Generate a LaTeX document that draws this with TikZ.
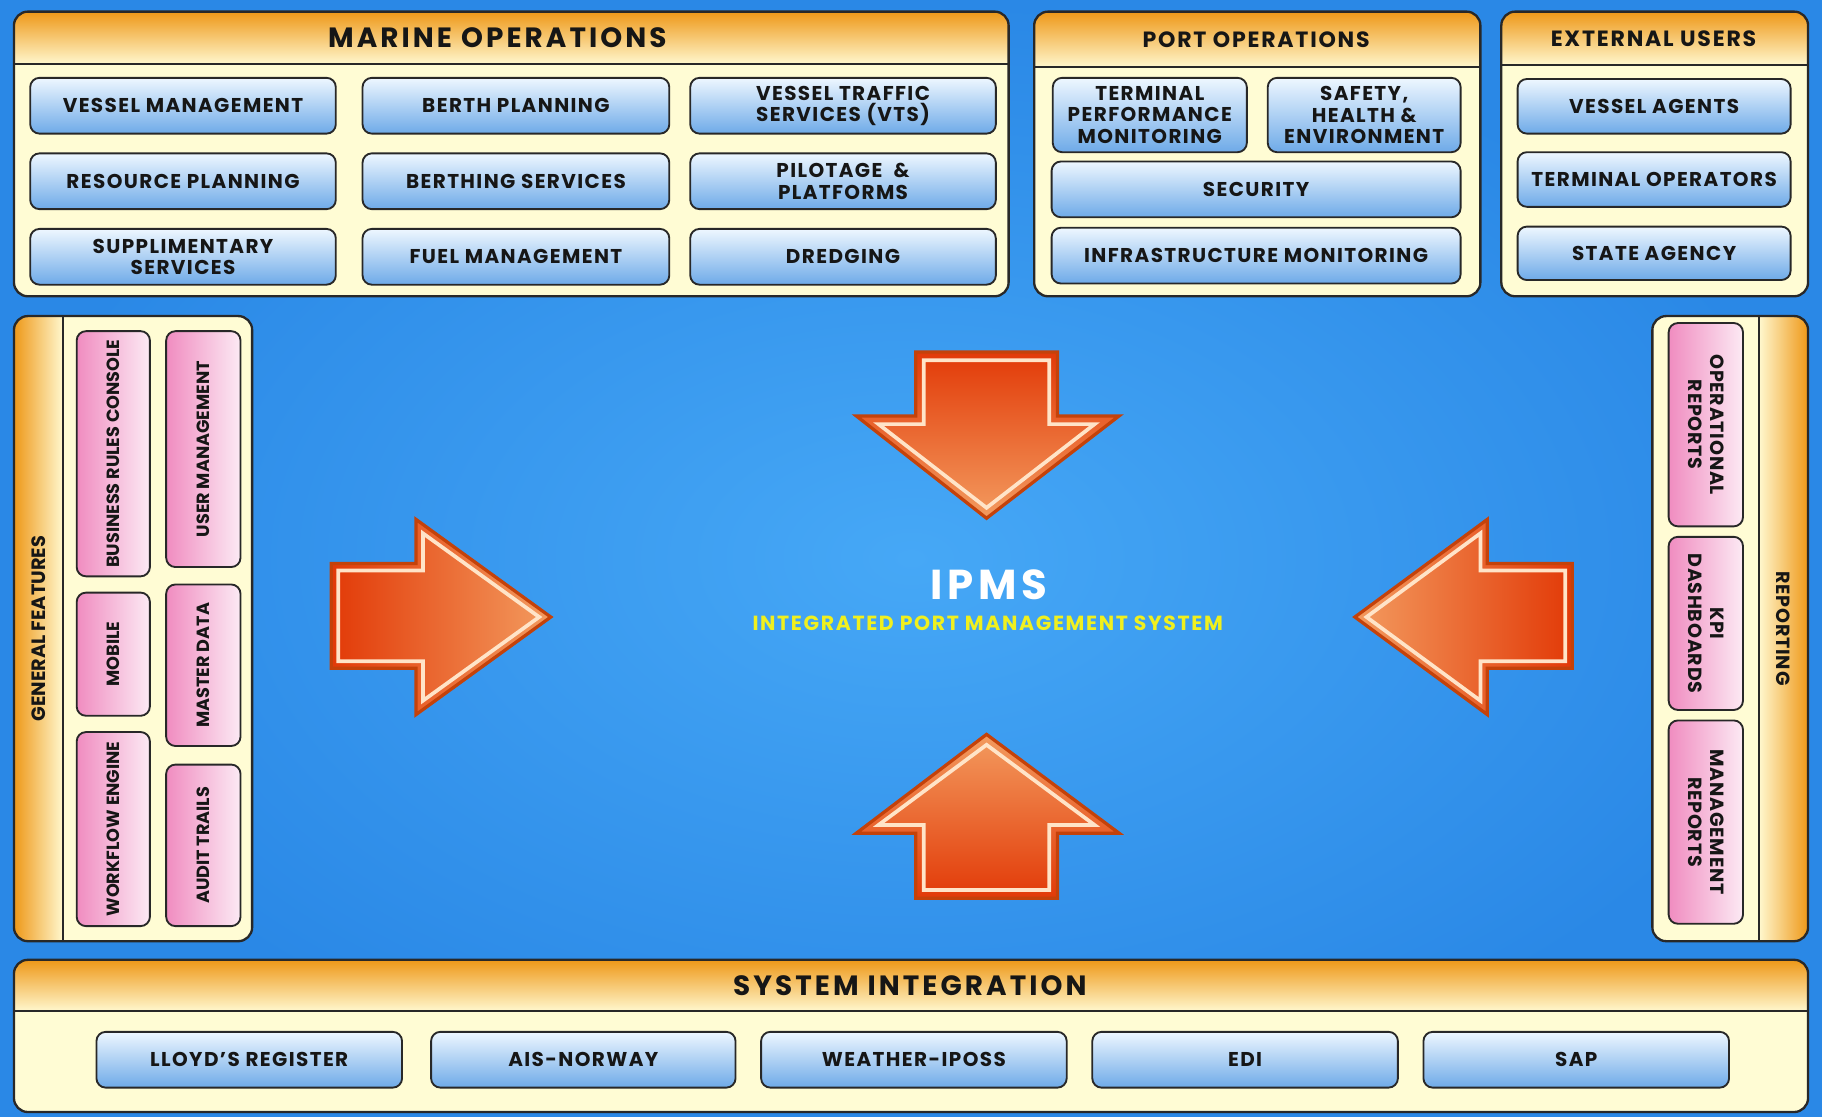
\documentclass[tikz,border=0pt]{standalone}
\usepackage{fontspec}
\setmainfont{Poppins}
\usetikzlibrary{shadings}
\definecolor{bgblue}{RGB}{42,136,230}
\definecolor{bglight}{RGB}{70,168,246}
\definecolor{cream}{RGB}{255,252,212}
\definecolor{hdrorange}{RGB}{238,152,24}
\definecolor{hdrpale}{RGB}{255,247,205}
\definecolor{btntop}{RGB}{238,247,255}
\definecolor{btnbot}{RGB}{110,170,232}
\definecolor{pinkdark}{RGB}{240,140,192}
\definecolor{pinklight}{RGB}{252,234,244}
\definecolor{edge}{RGB}{40,40,40}
\definecolor{txt}{RGB}{22,22,22}
\definecolor{arrdark}{RGB}{226,58,8}
\definecolor{arrlight}{RGB}{243,155,95}
\definecolor{arredge}{RGB}{196,66,10}
\definecolor{arrline}{RGB}{255,228,200}
\definecolor{ipmsyellow}{RGB}{240,240,30}
\newcommand\btnfont{\fontsize{8.6}{9.2}\selectfont\bfseries\addfontfeatures{LetterSpace=7}}
\tikzset{
  bluebtn/.style={draw=edge,line width=0.8pt,rounded corners=4pt,top color=btntop,bottom color=btnbot,
    inner sep=0pt,outer sep=0pt,align=center,text=txt,font=\btnfont},
  pinkbtn/.style={draw=edge,line width=0.8pt,rounded corners=4pt,left color=pinkdark,right color=pinklight,
    inner sep=0pt,outer sep=0pt},
  vtext/.style={text=txt,align=center,inner sep=0pt,font=\fontsize{7.6}{8.6}\selectfont\bfseries},
  rtext/.style={text=txt,align=center,inner sep=0pt,font=\fontsize{8.2}{9.4}\selectfont\bfseries\addfontfeatures{LetterSpace=4}},
  titletext/.style={text=txt,inner sep=0pt,font=\fontsize{9.5}{11}\selectfont\bfseries\addfontfeatures{LetterSpace=8}},
  bigtitle/.style={text=txt,inner sep=0pt,font=\fontsize{12}{13}\selectfont\bfseries\addfontfeatures{LetterSpace=11}},
  arrowshape/.style={draw=arredge,line width=1.4pt,line join=miter},
  arrowinner/.style={draw=arrline,line width=1.6pt,line join=miter},
  paneledge/.style={draw=edge,line width=1pt,rounded corners=6pt}
}
\newcommand\bbtn[6]{\node[bluebtn,minimum width={(#4-#2)*0.5pt},minimum height={(#5-#3)*0.5pt}] (#1) at ({(#2+#4)/2},{(#3+#5)/2}) {#6};}
\newcommand\pbtn[5]{\node[pinkbtn,minimum width={(#4-#2)*0.5pt},minimum height={(#5-#3)*0.5pt}] (#1) at ({(#2+#4)/2},{(#3+#5)/2}) {};}
\newcommand\hpanel[9]{%
  \fill[cream,rounded corners=6pt] (#2,#3) rectangle (#4,#5);
  \begin{scope}
    \clip[rounded corners=6pt] (#2,#3) rectangle (#4,#5);
    \shade[top color=hdrorange,bottom color=hdrpale] (#2,#3) rectangle (#4,#6);
  \end{scope}
  \draw[edge,line width=0.8pt] (#2,#6) -- (#4,#6);
  \draw[paneledge] (#2,#3) rectangle (#4,#5);
  \node[#8] (#1) at (#9,{(#3+#6)/2}) {#7};
}
\begin{document}
\begin{tikzpicture}[x=0.5pt,y=-0.5pt]
\useasboundingbox (0,0) rectangle (1568,961);
% background
\fill[bgblue] (0,0) rectangle (1568,961);
\shade[inner color=bglight,outer color=bgblue] (0,0) rectangle (1568,961);

% ---------- MARINE OPERATIONS
\hpanel{marine}{12}{10}{868}{255}{55}{MARINE OPERATIONS}{bigtitle}{428}
\bbtn{vm}{26}{67}{289}{115}{VESSEL MANAGEMENT}
\bbtn{bp}{312}{67}{576}{115}{BERTH PLANNING}
\bbtn{vts}{594}{67}{857}{115}{VESSEL TRAFFIC\\SERVICES (VTS)}
\bbtn{rp}{26}{132}{289}{180}{RESOURCE PLANNING}
\bbtn{bs}{312}{132}{576}{180}{BERTHING SERVICES}
\bbtn{pp}{594}{132}{857}{180}{PILOTAGE \ \&\\PLATFORMS}
\bbtn{ss}{26}{197}{289}{245}{SUPPLIMENTARY\\SERVICES}
\bbtn{fm}{312}{197}{576}{245}{FUEL MANAGEMENT}
\bbtn{dr}{594}{197}{857}{245}{DREDGING}

% ---------- PORT OPERATIONS
\hpanel{port}{890}{10}{1274}{255}{58}{PORT OPERATIONS}{titletext}{1081}
\bbtn{tpm}{906}{67}{1073}{131}{TERMINAL\\PERFORMANCE\\MONITORING}
\bbtn{she}{1091}{67}{1257}{131}{SAFETY,\\HEALTH \&\\ENVIRONMENT}
\bbtn{sec}{905}{139}{1257}{187}{SECURITY}
\bbtn{inf}{905}{196}{1257}{244}{INFRASTRUCTURE MONITORING}

% ---------- EXTERNAL USERS
\hpanel{ext}{1292}{10}{1556}{255}{56}{EXTERNAL USERS}{titletext}{1423}
\bbtn{va}{1306}{68}{1541}{115}{VESSEL AGENTS}
\bbtn{to}{1306}{131}{1541}{178}{TERMINAL OPERATORS}
\bbtn{sa}{1306}{195}{1541}{241}{STATE AGENCY}

% ---------- SYSTEM INTEGRATION
\hpanel{sysint}{12}{826}{1556}{957}{870}{SYSTEM INTEGRATION}{bigtitle}{783}
\bbtn{lr}{83}{888}{346}{936}{LLOYD'S REGISTER}
\bbtn{ais}{371}{888}{633}{936}{AIS-NORWAY}
\bbtn{wi}{655}{888}{918}{936}{WEATHER-IPOSS}
\bbtn{edi}{940}{888}{1203}{936}{EDI}
\bbtn{sap}{1225}{888}{1488}{936}{SAP}

% ---------- GENERAL FEATURES
\fill[cream,rounded corners=6pt] (12,272) rectangle (217,810);
\begin{scope}
  \clip[rounded corners=6pt] (12,272) rectangle (217,810);
  \shade[left color=hdrorange,right color=hdrpale] (12,272) rectangle (54,810);
\end{scope}
\draw[edge,line width=0.8pt] (54,272) -- (54,810);
\draw[paneledge] (12,272) rectangle (217,810);
\node[vtext,rotate=90,font=\fontsize{8.3}{10}\selectfont\bfseries] (genfeat) at (33,541) {GENERAL FEATURES};
\pbtn{brc}{66}{285}{129}{496}
\pbtn{mob}{66}{510}{129}{616}
\pbtn{wfe}{66}{630}{129}{797}
\pbtn{um}{143}{285}{207}{488}
\pbtn{md}{143}{503}{207}{642}
\pbtn{at}{143}{658}{207}{797}
\node[vtext,rotate=90] (brc-t) at (brc) {BUSINESS RULES CONSOLE};
\node[vtext,rotate=90] (mob-t) at (mob) {MOBILE};
\node[vtext,rotate=90] (wfe-t) at (wfe) {WORKFLOW ENGINE};
\node[vtext,rotate=90] (um-t) at (um) {USER MANAGEMENT};
\node[vtext,rotate=90] (md-t) at (md) {MASTER DATA};
\node[vtext,rotate=90] (at-t) at (at) {AUDIT TRAILS};

% ---------- REPORTING
\fill[cream,rounded corners=6pt] (1422,272) rectangle (1556,810);
\begin{scope}
  \clip[rounded corners=6pt] (1422,272) rectangle (1556,810);
  \shade[left color=hdrpale,right color=hdrorange] (1514,272) rectangle (1556,810);
\end{scope}
\draw[edge,line width=0.8pt] (1514,272) -- (1514,810);
\draw[paneledge] (1422,272) rectangle (1556,810);
\node[rtext,rotate=-90] (reporting) at (1535,541) {REPORTING};
\pbtn{opr}{1436}{278}{1500}{453}
\pbtn{kpi}{1436}{462}{1500}{611}
\pbtn{mgr}{1436}{620}{1500}{795}
\node[rtext,rotate=-90] (opr-t) at (opr) {OPERATIONAL\\REPORTS};
\node[rtext,rotate=-90] (kpi-t) at (kpi) {KPI\\DASHBOARDS};
\node[rtext,rotate=-90] (mgr-t) at (mgr) {MANAGEMENT\\REPORTS};

% ---------- ARROWS
% down
\shade[arrowshape,top color=arrdark,middle color=arrdark!55!arrlight,bottom color=arrlight]
  (788,303) -- (910,303) -- (910,358) -- (963,358) -- (849,446) -- (737,358) -- (788,358) -- cycle;
\draw[arrowinner] (795,310) -- (903,310) -- (903,365) -- (942,365) -- (849,437) -- (756,365) -- (795,365) -- cycle;
% up
\shade[arrowshape,bottom color=arrdark,middle color=arrdark!55!arrlight,top color=arrlight]
  (788,773) -- (910,773) -- (910,717) -- (963,717) -- (849,632) -- (737,717) -- (788,717) -- cycle;
\draw[arrowinner] (795,766) -- (903,766) -- (903,710) -- (942,710) -- (849,641) -- (756,710) -- (795,710) -- cycle;
% right-pointing (left side)
\shade[arrowshape,left color=arrdark,middle color=arrdark!55!arrlight,right color=arrlight]
  (285,485) -- (358,485) -- (358,447) -- (474,531) -- (358,615) -- (358,575) -- (285,575) -- cycle;
\draw[arrowinner] (291,491) -- (364,491) -- (364,459) -- (464,531) -- (364,603) -- (364,569) -- (291,569) -- cycle;
% left-pointing (right side)
\shade[arrowshape,right color=arrdark,middle color=arrdark!55!arrlight,left color=arrlight]
  (1353,485) -- (1280,485) -- (1280,447) -- (1166,531) -- (1280,615) -- (1280,575) -- (1353,575) -- cycle;
\draw[arrowinner] (1347,491) -- (1274,491) -- (1274,459) -- (1176,531) -- (1274,603) -- (1274,569) -- (1347,569) -- cycle;

% ---------- CENTRE
\node[text=white,inner sep=0pt,font=\fontsize{18}{20}\selectfont\bfseries\addfontfeatures{LetterSpace=12}] (ipms) at (851,503) {IPMS};
\node[text=ipmsyellow,inner sep=0pt,font=\fontsize{8.8}{9}\selectfont\bfseries\addfontfeatures{LetterSpace=8}] (ipmssub) at (850,536) {INTEGRATED PORT MANAGEMENT SYSTEM};
\end{tikzpicture}
\end{document}
